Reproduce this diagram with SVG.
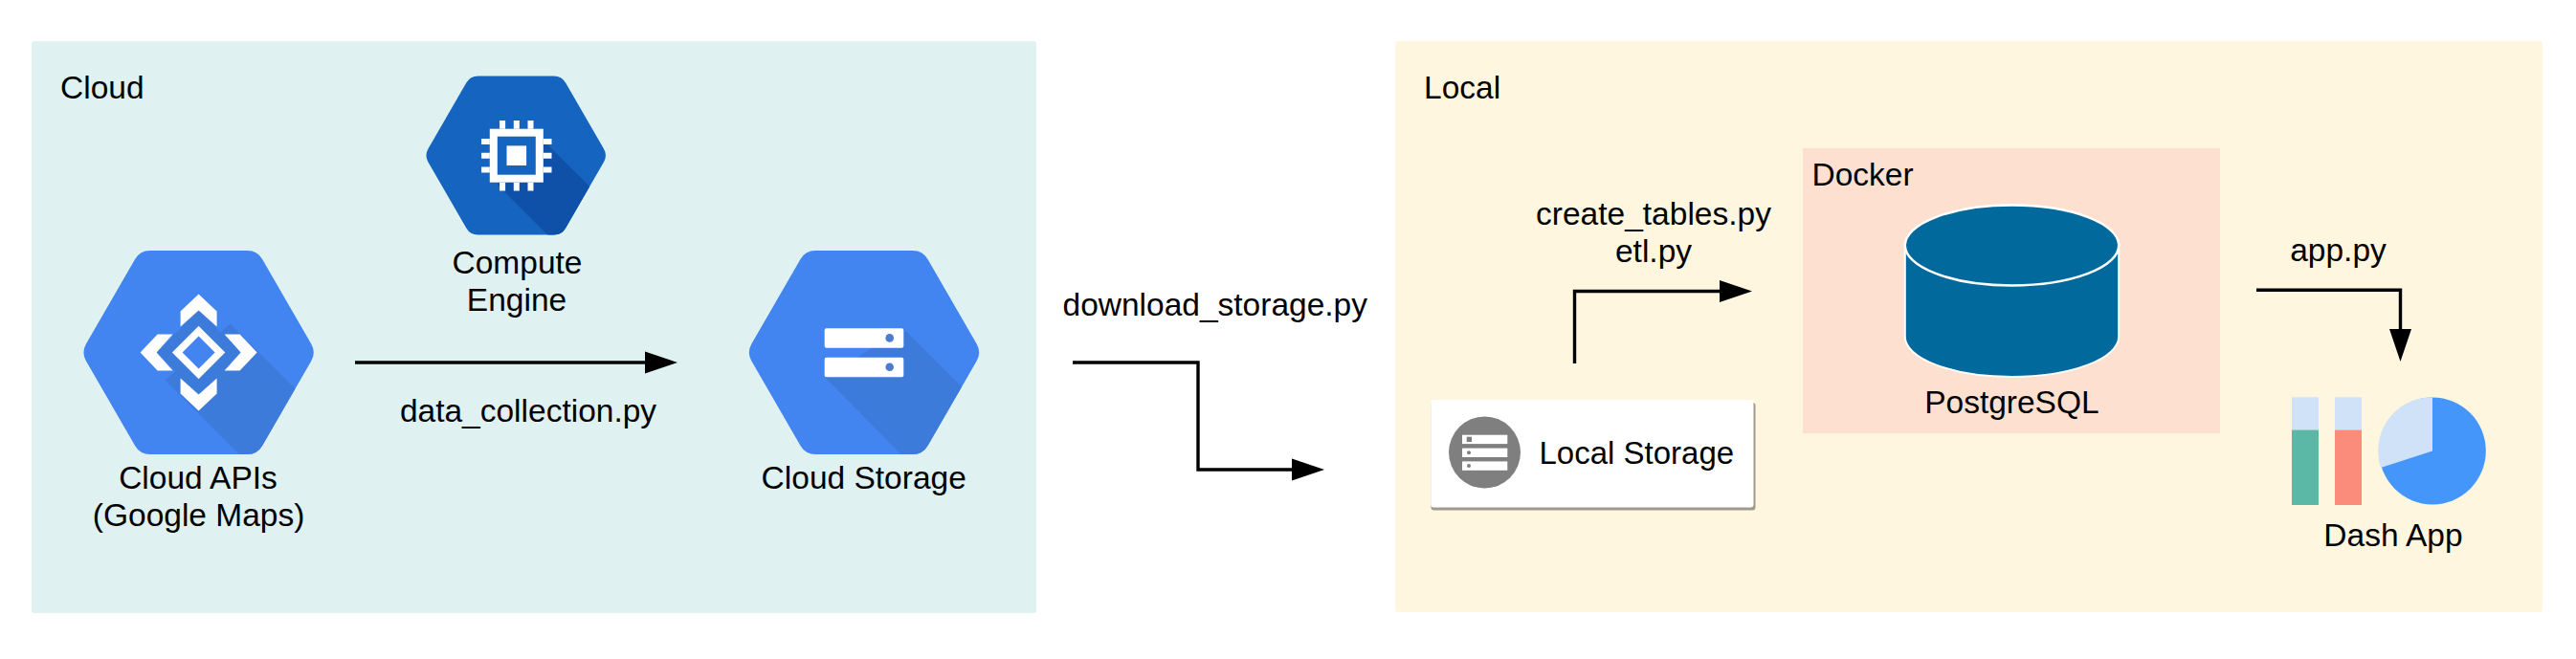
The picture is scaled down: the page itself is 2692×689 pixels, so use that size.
<svg xmlns="http://www.w3.org/2000/svg" width="2692" height="689" viewBox="0 0 2692 689">
<style>
text{font-family:"Liberation Sans",Arial,sans-serif;font-size:33.5px;fill:#000}
.m{text-anchor:middle}
.conn{fill:none;stroke:#000;stroke-width:3.4;marker-end:url(#head)}
.w{fill:#fff}
</style>
<defs>
<marker id="head" markerUnits="userSpaceOnUse" markerWidth="36" markerHeight="26" refX="1" refY="13" orient="auto">
<path d="M1 1.5 L35 13 L1 24.5 Z" fill="#000"/>
</marker>
<path id="hex" d="M-50.9 -106.5 H50.9 A18 18 0 0 1 66.5 -97.5 L117.6 -9 A18 18 0 0 1 117.6 9 L66.5 97.5 A18 18 0 0 1 50.9 106.5 H-50.9 A18 18 0 0 1 -66.5 97.5 L-117.6 9 A18 18 0 0 1 -117.6 -9 L-66.5 -97.5 A18 18 0 0 1 -50.9 -106.5 Z"/>
<clipPath id="hexClip"><use href="#hex"/></clipPath>
<polygon id="chev" points="0,-61 19,-43 19,-27 0,-44 -19,-27 -19,-43"/>
</defs>
<rect width="2692" height="689" fill="#fff"/>

<g id="cloud-panel">
<rect x="33" y="43" width="1050" height="598" rx="3" fill="#dff1f1"/>
<text x="63" y="103">Cloud</text>
</g>
<g id="local-panel">
<rect x="1458" y="43" width="1199" height="597" rx="3" fill="#fef6df"/>
<text x="1488" y="103">Local</text>
</g>
<g id="docker-panel">
<rect x="1884" y="155" width="436" height="298" fill="#fde0d0"/>
<text x="1893.5" y="194">Docker</text>
</g>

<g id="connectors">
<path class="conn" d="M371 379 H674"/>
<path class="conn" d="M1121 379 H1252 V491 H1350"/>
<path class="conn" d="M1645.5 380 V304.5 H1797"/>
<path class="conn" d="M2358 303.3 H2508.5 V344"/>
</g>
<g id="connector-labels">
<text class="m" x="552" y="441">data_collection.py</text>
<text x="1110.5" y="330">download_storage.py</text>
<text class="m" x="1728" y="235">create_tables.py</text>
<text class="m" x="1728" y="274">etl.py</text>
<text class="m" x="2443.5" y="273">app.py</text>
</g>

<g id="cloud-apis">
<g transform="translate(207.6 368.5)">
<use href="#hex" fill="#4285f0"/>
<polygon clip-path="url(#hexClip)" points="-35,29 62,126 188,125 33,-30" fill="#3d7bdb"/>
<polygon points="0,-44 44,0 0,44 -44,0" fill="#3d7bdb"/>
<use href="#chev" class="w"/>
<use href="#chev" class="w" transform="rotate(90)"/>
<use href="#chev" class="w" transform="rotate(180)"/>
<use href="#chev" class="w" transform="rotate(270)"/>
<polygon points="0,-22.4 22.4,0 0,22.4 -22.4,0" fill="#4285f0" stroke="#fff" stroke-width="7.5"/>
</g>
<text class="m" x="207" y="510.5">Cloud APIs</text>
<text class="m" x="207.6" y="550">(Google Maps)</text>
</g>

<g id="compute-engine">
<g transform="translate(539.2 162.5) scale(.78)">
<use href="#hex" fill="#1565c0"/>
<polygon clip-path="url(#hexClip)" points="-25,39 60,124 187,130 37,-20" fill="#0f50a8"/>
</g>
<g transform="translate(539.8 162.7)">
<rect x="-24" y="-24" width="48" height="48" fill="#1565c0" stroke="#fff" stroke-width="8"/>
<rect class="w" x="-10.3" y="-10.3" width="20.6" height="20.6"/>
<path d="M-14.7 -36.7 V-28 M0 -36.7 V-28 M14.7 -36.7 V-28 M-14.7 28 V36.7 M0 28 V36.7 M14.7 28 V36.7 M-36.7 -14.7 H-28 M-36.7 0 H-28 M-36.7 14.7 H-28 M28 -14.7 H36.7 M28 0 H36.7 M28 14.7 H36.7" stroke="#fff" stroke-width="6" fill="none"/>
</g>
<text class="m" x="540.5" y="286">Compute</text>
<text class="m" x="540" y="325">Engine</text>
</g>

<g id="cloud-storage">
<g transform="translate(903 368.5)">
<use href="#hex" fill="#4285f0"/>
<polygon clip-path="url(#hexClip)" points="-41,26 60,128 191,125 41,-25" fill="#3d7bdb"/>
</g>
<rect class="w" x="861.7" y="343.3" width="82.6" height="20.4" rx="2"/>
<rect class="w" x="861.7" y="373.7" width="82.6" height="20.6" rx="2"/>
<circle cx="929.7" cy="353.4" r="4.3" fill="#4a7cd0"/>
<circle cx="929.7" cy="383.8" r="4.3" fill="#4a7cd0"/>
<text class="m" x="902.7" y="511">Cloud Storage</text>
</g>

<g id="local-storage">
<rect x="1495.5" y="421" width="339" height="112.5" rx="3" fill="#a09a8e"/>
<rect x="1495.3" y="418" width="337.2" height="112.5" rx="3" fill="#fff"/>
<circle cx="1551.5" cy="473" r="37.5" fill="#7f7f7f"/>
<rect class="w" x="1528" y="454.7" width="47.3" height="9.4"/>
<rect class="w" x="1528" y="468.6" width="47.3" height="9.4"/>
<rect class="w" x="1528" y="482.4" width="47.3" height="9.4"/>
<rect x="1532.7" y="456.7" width="5.3" height="5.3" fill="#7f7f7f"/>
<circle cx="1535" cy="473.3" r="2" fill="#7f7f7f"/>
<circle cx="1535" cy="487.1" r="2" fill="#7f7f7f"/>
<text x="1608.5" y="485" style="font-size:33px">Local Storage</text>
</g>

<g id="postgresql">
<path d="M1990.8 256.5 A111.7 42 0 0 1 2214.2 256.5 V352 A111.7 42 0 0 1 1990.8 352 Z" fill="#02699c" stroke="#fff" stroke-width="2"/>
<ellipse cx="2102.5" cy="256.5" rx="111.7" ry="42" fill="#02699c" stroke="#fff" stroke-width="2.5"/>
<text class="m" x="2102.4" y="432">PostgreSQL</text>
</g>

<g id="dash-app">
<rect x="2395" y="415.3" width="28" height="34.2" fill="#cfe2f8"/>
<rect x="2395" y="449.5" width="28" height="78.5" fill="#5bb8a6"/>
<rect x="2440" y="415.3" width="28" height="34.2" fill="#cfe2f8"/>
<rect x="2440" y="449.5" width="28" height="78.5" fill="#fb8c7c"/>
<ellipse cx="2542" cy="471.4" rx="55.8" ry="56" fill="#4596fb"/>
<path d="M2542 471.4 V415.4 A55.8 56 0 0 0 2488 489 Z" fill="#cfe2f8"/>
<text class="m" x="2501" y="571">Dash App</text>
</g>
</svg>
